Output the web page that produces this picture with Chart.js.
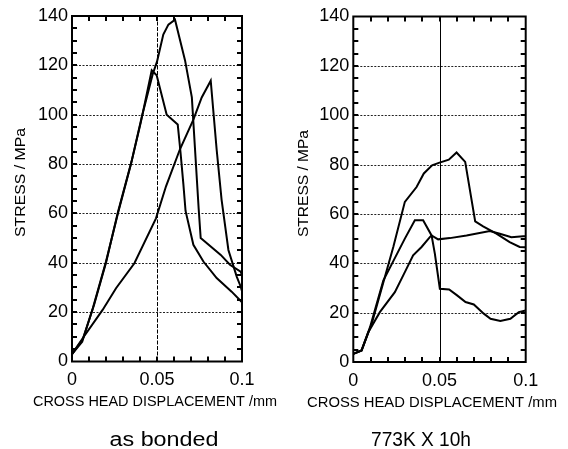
<!DOCTYPE html>
<html><head><meta charset="utf-8">
<script src="https://cdn.jsdelivr.net/npm/chart.js@4/dist/chart.umd.min.js"></script>
<style>
html,body{margin:0;padding:0;background:#fff;}
#wrap{position:relative;width:568px;height:449px;overflow:hidden;background:#fff;}
canvas{position:absolute;left:0;top:0;}
</style></head><body>
<div id="wrap"><canvas id="c1" width="568" height="449"></canvas><canvas id="c2" width="568" height="449"></canvas></div>
<script>
const xTicks = [0, 0.05, 0.1];
const xTickLabels = ['0', '0.05', '0.1'];
const yTicks = [0, 20, 40, 60, 80, 100, 120, 140];
const xMinorTicks = [0.01, 0.02, 0.03, 0.04, 0.05, 0.06, 0.07, 0.08, 0.09];
const yMinorTicks = [5, 10, 15, 20, 25, 30, 35, 40, 45, 50, 55, 60, 65, 70, 75, 80, 85, 90, 95, 100, 105, 110, 115, 120, 125, 130, 135];
const xTitle = 'CROSS HEAD DISPLACEMENT /mm';
const yTitle = 'STRESS / MPa';
const captionLeft = 'as bonded';
const captionRight = '773K X 10h';

// "as bonded"
const bondedA_x = [0, 0.0063, 0.013, 0.02, 0.027, 0.035, 0.041, 0.0475, 0.05, 0.0537, 0.0567, 0.0606, 0.0665, 0.0705, 0.0745, 0.0757, 0.0875, 0.0929, 0.0992, 0.1];
const bondedA_y = [3, 9, 23, 40, 60.5, 81, 99, 116.5, 121.5, 132.5, 136.5, 138.5, 122, 107, 62, 50, 43.2, 39.2, 36.4, 35];
const bondedB_x = [0, 0.006, 0.012, 0.02, 0.027, 0.0347, 0.0405, 0.0469, 0.0498, 0.0557, 0.0622, 0.0638, 0.0655, 0.0668, 0.0714, 0.0773, 0.0851, 0.0939, 0.1];
const bondedB_y = [3, 8, 21, 40.5, 60, 80, 97, 118, 116, 100, 96, 85, 72, 61, 47.3, 40.5, 33.8, 28.3, 24];
const bondedC_x = [0, 0.0063, 0.018, 0.0259, 0.0367, 0.0494, 0.0553, 0.0635, 0.0714, 0.0763, 0.0816, 0.0851, 0.088, 0.092, 0.0969, 0.0992, 0.1];
const bondedC_y = [3, 9.4, 20.9, 29.7, 39.8, 58, 71, 86, 98, 107, 113.8, 85.8, 65.5, 45.2, 34.4, 30.4, 28.5];

// "773K X 10h"
const heatD_x = [0, 0.0048, 0.0107, 0.0232, 0.0299, 0.0367, 0.0409, 0.0457, 0.0496, 0.0554, 0.0599, 0.0649, 0.0707, 0.0753, 0.083, 0.0907, 0.0965, 0.1];
const heatD_y = [3.3, 4.7, 15.5, 46.6, 64.9, 70.9, 76.4, 79.7, 80.7, 82, 84.9, 81.1, 57, 55, 52, 48.6, 46.6, 46.5];
const heatE_x = [0, 0.0048, 0.0097, 0.0174, 0.0299, 0.0357, 0.0405, 0.0454, 0.0473, 0.0502, 0.0556, 0.0602, 0.0651, 0.0699, 0.0757, 0.0796, 0.0853, 0.0911, 0.096, 0.1];
const heatE_y = [3.3, 4.7, 14.1, 33, 50, 57.4, 57.4, 51.3, 43.9, 29.7, 29.4, 27, 24.3, 23.3, 19.6, 17.5, 16.6, 17.5, 20.2, 20.9];
const heatF_x = [0, 0.0048, 0.0087, 0.0154, 0.0241, 0.0299, 0.0347, 0.0396, 0.0444, 0.0454, 0.0492, 0.056, 0.0657, 0.0792, 0.085, 0.0917, 0.0985, 0.1];
const heatF_y = [3.3, 4.7, 12.1, 20.2, 28.3, 36.4, 43.2, 46.6, 50.6, 51.3, 49.7, 50.2, 51.3, 53.1, 52, 50.6, 51, 51];

function pts(xs, ys) { return xs.map((x, i) => ({ x: x, y: ys[i] })); }

function fitText(ctx, txt, cx, cy, w, font, rot, baseline) {
  ctx.save();
  ctx.font = font;
  const m = ctx.measureText(txt).width;
  ctx.translate(cx, cy);
  ctx.rotate(rot);
  ctx.scale(w / m, 1);
  ctx.textAlign = 'center';
  ctx.textBaseline = baseline;
  ctx.fillStyle = '#000';
  ctx.fillText(txt, 0, 0);
  ctx.restore();
}

function makeChart(id, series, box, opt) {
  const decor = {
    id: 'decor' + id,
    beforeDatasetsDraw(chart) {
      const ctx = chart.ctx, a = chart.chartArea;
      const xs = chart.scales.x, ys = chart.scales.y;
      ctx.save();
      ctx.strokeStyle = '#222';
      ctx.lineWidth = 1;
      ctx.setLineDash([2, 1.5]);
      yTicks.forEach(v => {
        if (v === 0 || v === 140) return;
        const py = Math.round(ys.getPixelForValue(v)) + 0.5;
        ctx.beginPath(); ctx.moveTo(a.left, py); ctx.lineTo(a.right, py); ctx.stroke();
      });
      ctx.setLineDash(opt.vDash);
      ctx.strokeStyle = '#000';
      const px = Math.round(xs.getPixelForValue(0.05)) + 0.5;
      ctx.beginPath(); ctx.moveTo(px, a.top); ctx.lineTo(px, a.bottom); ctx.stroke();
      ctx.restore();
    },
    afterDraw(chart) {
      const ctx = chart.ctx, a = chart.chartArea;
      const xs = chart.scales.x, ys = chart.scales.y;
      ctx.save();
      ctx.setLineDash([]);
      ctx.fillStyle = '#000';
      const tl = 5;
      xMinorTicks.forEach(v => {
        const x = Math.round(xs.getPixelForValue(v));
        ctx.fillRect(x - 1, a.top, 2, tl);
        ctx.fillRect(x - 1, a.bottom - tl, 2, tl);
      });
      yMinorTicks.forEach(v => {
        const y = Math.round(ys.getPixelForValue(v));
        ctx.fillRect(a.left, y - 1, tl, 2);
        ctx.fillRect(a.right - tl, y - 1, tl, 2);
      });
      ctx.strokeStyle = '#000';
      ctx.lineWidth = 2;
      ctx.strokeRect(a.left, a.top, a.right - a.left, a.bottom - a.top);
      ctx.restore();
      fitText(ctx, yTitle, opt.yTitleX, opt.yTitleY, opt.yTitleW, '14px "Liberation Sans"', -Math.PI / 2, 'middle');
      fitText(ctx, xTitle, opt.xTitleX, opt.xTitleY, opt.xTitleW, '14px "Liberation Sans"', 0, 'alphabetic');
      fitText(ctx, opt.caption, opt.capX, opt.capY, opt.capW, '20px "Liberation Sans"', 0, 'alphabetic');
    }
  };
  return new Chart(document.getElementById(id), {
    type: 'scatter',
    data: {
      datasets: series.map(s => ({
        data: pts(s[0], s[1]),
        showLine: true,
        borderColor: '#000',
        backgroundColor: '#000',
        borderWidth: 2,
        pointRadius: 0,
        tension: 0
      }))
    },
    options: {
      responsive: false,
      animation: false,
      devicePixelRatio: 1,
      layout: { padding: { left: 0, right: 568 - box.right, top: box.top, bottom: 449 - box.bottom - 30 } },
      plugins: { legend: { display: false }, tooltip: { enabled: false } },
      scales: {
        x: {
          type: 'linear', min: 0, max: 0.1,
          afterBuildTicks: s => { s.ticks = xTicks.map(v => ({ value: v })); },
          afterFit: s => { s.height = 30; },
          ticks: {
            autoSkip: false, maxRotation: 0, padding: 8, color: '#000',
            font: { family: '"Liberation Sans"', size: 18 },
            callback: v => xTickLabels[xTicks.indexOf(v)]
          },
          grid: { display: false, drawTicks: false },
          border: { display: false }
        },
        y: {
          type: 'linear', min: 0, max: 140,
          afterBuildTicks: s => { s.ticks = yTicks.map(v => ({ value: v })); },
          afterFit: s => { s.width = box.left; },
          ticks: {
            autoSkip: false, padding: 4, color: '#000',
            font: { family: '"Liberation Sans"', size: 18 },
            callback: v => String(v)
          },
          grid: { display: false, drawTicks: false },
          border: { display: false }
        }
      }
    },
    plugins: [decor]
  });
}

makeChart('c1',
  [[bondedA_x, bondedA_y], [bondedB_x, bondedB_y], [bondedC_x, bondedC_y]],
  { left: 72, right: 242, top: 16, bottom: 361.5 },
  { vDash: [4, 1.5], yTitleX: 21, yTitleY: 182.5, yTitleW: 109, xTitleX: 155, xTitleY: 406, xTitleW: 244,
    caption: captionLeft, capX: 164, capY: 446, capW: 109 });

makeChart('c2',
  [[heatD_x, heatD_y], [heatE_x, heatE_y], [heatF_x, heatF_y]],
  { left: 353.3, right: 525.7, top: 16.5, bottom: 362 },
  { vDash: [], yTitleX: 304.5, yTitleY: 183.5, yTitleW: 107, xTitleX: 432, xTitleY: 407, xTitleW: 250,
    caption: captionRight, capX: 421, capY: 446, capW: 100 });
</script>
</body></html>
